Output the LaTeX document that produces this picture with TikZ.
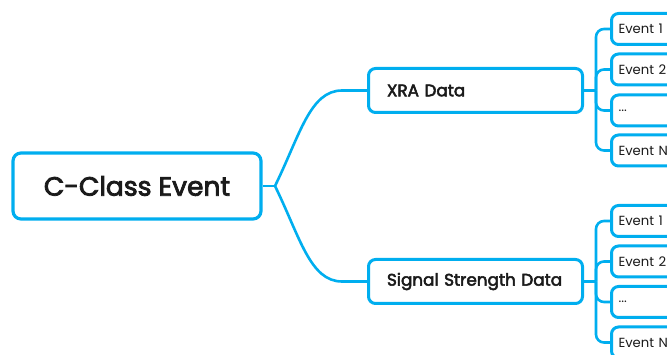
\documentclass[tikz,border=0pt]{standalone}
\usepackage{fontspec}
\setmainfont{Poppins}
\newfontfamily\headfont[FakeBold=3]{Poppins}
\definecolor{linkblue}{RGB}{0,174,239}
\definecolor{inktext}{RGB}{26,26,26}
\tikzset{
  box/.style={draw=linkblue, line width=3pt, rounded corners=7pt, fill=white, text=inktext, inner sep=0pt},
  rootbox/.style={box, line width=3.2pt, rounded corners=8pt, minimum width=248pt, minimum height=66pt, font=\headfont\fontsize{26.5}{30}\selectfont},
  midbox/.style={box, anchor=west, text width=177pt, align=left, inner xsep=18.5pt, minimum height=44pt, font=\headfont\fontsize{16.8}{19}\selectfont},
  leafbox/.style={box, anchor=west, text width=62pt, align=left, inner xsep=7pt, minimum height=31pt, font=\fontsize{13.2}{16}\selectfont},
  link/.style={draw=linkblue, line width=2.6pt},
  elbow/.style={link, rounded corners=8pt}
}
\begin{document}
\begin{tikzpicture}[x=1pt, y=-1pt]
\useasboundingbox (0,0) rectangle (667,355);
\clip (0,0) rectangle (667,355);

% central topic
\node[rootbox] (root) at (137,186) {C-Class Event};

% main branches
\node[midbox] (xra) at (367,90.5) {XRA Data};
\node[midbox] (sig) at (367,281.5) {Signal Strength Data};

% curved links from the central topic
\coordinate (fork) at (275,186);
\draw[link] (root.east) -- (fork);
\draw[link] (fork) .. controls (300,135) and (310,90.5) .. (342,90.5) -- (xra.west);
\draw[link] (fork) .. controls (300,237) and (310,281.5) .. (342,281.5) -- (sig.west);

% leaves of XRA Data
\node[leafbox] (x1) at (610,29) {Event 1};
\node[leafbox] (x2) at (610,69.5) {Event 2};
\node[leafbox] (x3) at (610,110.5) {...};
\node[leafbox] (x4) at (610,150.5) {Event N};

% leaves of Signal Strength Data
\node[leafbox] (s1) at (610,221) {Event 1};
\node[leafbox] (s2) at (610,261.5) {Event 2};
\node[leafbox] (s3) at (610,302) {...};
\node[leafbox] (s4) at (610,342.5) {Event N};

% tree brackets to the leaves
\coordinate (xj) at (596,90.5);
\coordinate (sj) at (596,281.5);
\draw[link] (xra.east) -- (xj);
\draw[link] (sig.east) -- (sj);
\foreach \leaf in {x1,x2,x3,x4} \draw[elbow] (xj) |- (\leaf.west);
\foreach \leaf in {s1,s2,s3,s4} \draw[elbow] (sj) |- (\leaf.west);
\end{tikzpicture}
\end{document}
